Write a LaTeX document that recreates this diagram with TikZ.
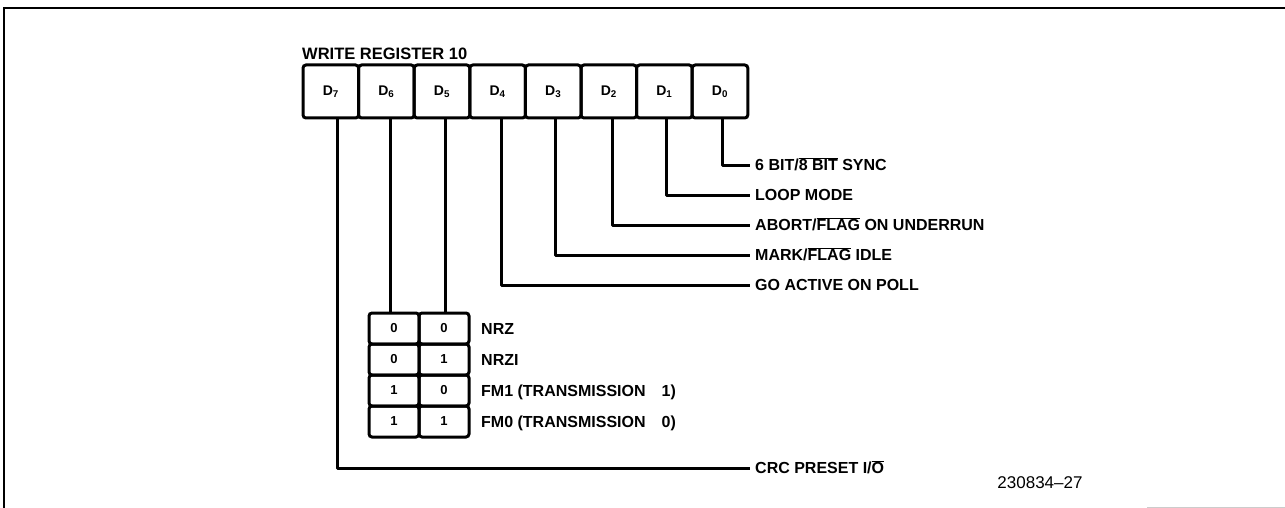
\documentclass[tikz,border=0pt]{standalone}
\usepackage{fontspec}
\setmainfont{Liberation Sans}
\usetikzlibrary{positioning}
\newcommand{\ovl}[1]{$\overline{\mbox{#1}}$}
\newcommand{\lblfont}{\bfseries\fontsize{16}{18}\selectfont}
\begin{document}
\begin{tikzpicture}[x=1pt, y=-1pt, node distance=0pt,
    reg/.style={draw, rectangle, rounded corners=3pt, line width=3pt, outer sep=0pt, inner sep=0pt,
      minimum width=55.6pt, minimum height=53pt, font=\bfseries\fontsize{14}{16}\selectfont},
    cell/.style={draw, rectangle, rounded corners=3pt, line width=3pt, outer sep=0pt, inner sep=0pt,
      minimum width=50pt, minimum height=31pt, font=\bfseries\fontsize{13}{15}\selectfont},
    lbl/.style={anchor=west, inner sep=5pt, text height=11.5pt, text depth=0pt, font=\lblfont},
    wire/.style={line width=3pt, line join=round}]
    \useasboundingbox (0,0) rectangle (1285,508);
    % Frame
    \draw[line width=2.5pt] (4,508) -- (4,8) -- (1285,8);
    \draw[gray!40, line width=1pt] (1147,507) -- (1285,507);

    % Register bits
    \node[anchor=base west, inner sep=0pt, font=\bfseries\fontsize{16.5}{18}\selectfont] (title) at (302,60) {WRITE REGISTER 10};
    \node[reg] (d7) at (330.8,91.5) {D\textsubscript{7}};
    \node[reg, right=of d7] (d6) {D\textsubscript{6}};
    \node[reg, right=of d6] (d5) {D\textsubscript{5}};
    \node[reg, right=of d5] (d4) {D\textsubscript{4}};
    \node[reg, right=of d4] (d3) {D\textsubscript{3}};
    \node[reg, right=of d3] (d2) {D\textsubscript{2}};
    \node[reg, right=of d2] (d1) {D\textsubscript{1}};
    \node[reg, right=of d1] (d0) {D\textsubscript{0}};

    % Bit meanings
    \node[lbl] (lsync) at (750,165) {6 BIT/\ovl{8 BIT} SYNC};
    \node[lbl] (lloop) at (750,195) {LOOP MODE};
    \node[lbl] (labort) at (750,225) {ABORT/\ovl{FLAG} ON UNDERRUN};
    \node[lbl] (lmark) at (750,255) {MARK/\ovl{FLAG} IDLE};
    \node[lbl] (lpoll) at (750,285) {GO ACTIVE ON POLL};
    \node[lbl] (lcrc) at (750,468) {CRC PRESET I/\ovl{O}};

    % Encoding table
    \node[cell] (a1) at (394,328.5) {0};
    \node[cell, right=of a1] (b1) {0};
    \node[cell, below=of a1] (a2) {0};
    \node[cell, right=of a2] (b2) {1};
    \node[cell, below=of a2] (a3) {1};
    \node[cell, right=of a3] (b3) {0};
    \node[cell, below=of a3] (a4) {1};
    \node[cell, right=of a4] (b4) {1};
    \node[lbl, inner sep=3pt, right=9pt of b1] (lnrz) {NRZ};
    \node[lbl, inner sep=3pt, right=9pt of b2] (lnrzi) {NRZI};
    \node[lbl, inner sep=3pt, right=9pt of b3] (lfmone) {FM1 (TRANSMISSION\quad 1)};
    \node[lbl, inner sep=3pt, right=9pt of b4] (lfmzero) {FM0 (TRANSMISSION\quad 0)};

    \node[inner sep=0pt, font=\fontsize{17}{20}\selectfont] (fig) at (1040,483) {230834--27};

    % Lines
    \draw[wire] ([xshift=2pt]d0.south) |- (lsync.west);
    \draw[wire] ([xshift=2pt]d1.south) |- (lloop.west);
    \draw[wire] ([xshift=4pt]d2.south) |- (labort.west);
    \draw[wire] ([xshift=2pt]d3.south) |- (lmark.west);
    \draw[wire] ([xshift=4pt]d4.south) |- (lpoll.west);
    \draw[wire] ([xshift=3pt]d5.south) -- ([xshift=3pt]d5.south |- b1.north);
    \draw[wire] ([xshift=4pt]d6.south) -- ([xshift=4pt]d6.south |- a1.north);
    \draw[wire] ([xshift=7pt]d7.south) |- (lcrc.west);
\end{tikzpicture}
\end{document}
